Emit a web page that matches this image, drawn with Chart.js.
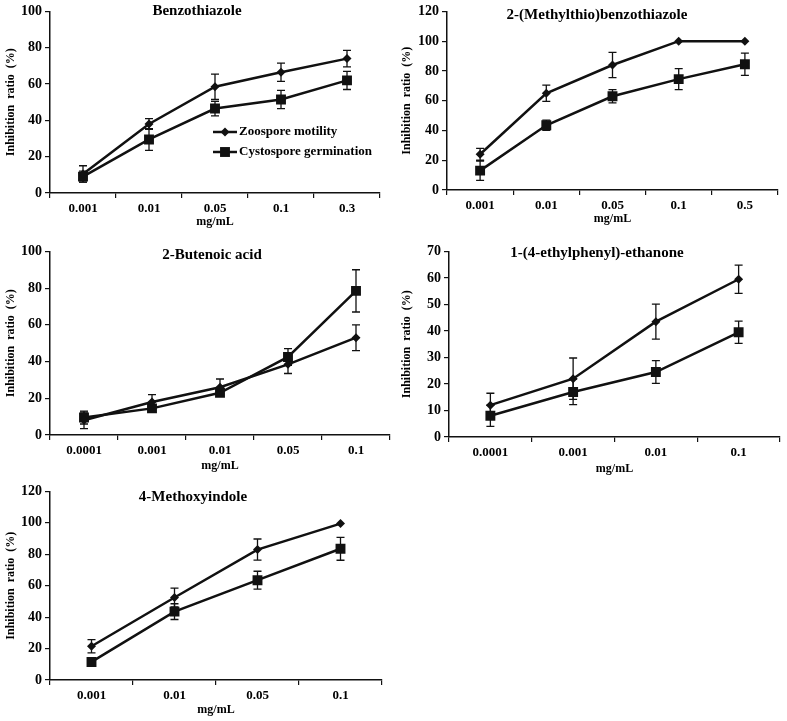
<!DOCTYPE html>
<html>
<head>
<meta charset="utf-8">
<script src="https://cdn.jsdelivr.net/npm/chart.js@4.4.1/dist/chart.umd.min.js"></script>
<style>
  body { margin: 0; background: #fff; }
  canvas { position: absolute; }
</style>
</head>
<body>
<canvas id="c1" width="390" height="233" style="left:0px;top:0px"></canvas>
<canvas id="c2" width="397" height="230" style="left:390px;top:0px"></canvas>
<canvas id="c3" width="400" height="237" style="left:0px;top:240px"></canvas>
<canvas id="c4" width="397" height="240" style="left:390px;top:240px"></canvas>
<canvas id="c5" width="390" height="241" style="left:0px;top:480px"></canvas>
<script>
// values (inhibition ratio %, error = +/-)
const benzoLabels = ['0.001', '0.01', '0.05', '0.1', '0.3'];
const benzoZoo = [10.5, 38, 58.5, 66.5, 74];
const benzoZooErr = [4.5, 3, 7, 5, 4.5];
const benzoCys = [9, 29.5, 46.5, 51.5, 62];
const benzoCysErr = [3, 6, 4, 5, 5];

const mtbLabels = ['0.001', '0.01', '0.05', '0.1', '0.5'];
const mtbZoo = [24, 65, 84, 100, 100];
const mtbZooErr = [4, 5.5, 8.5, 0, 0];
const mtbCys = [13, 43.5, 63, 74.5, 84.5];
const mtbCysErr = [6.5, 3.5, 4.5, 7, 7.5];

const butLabels = ['0.0001', '0.001', '0.01', '0.05', '0.1'];
const butZoo = [8, 18, 26, 38.5, 53];
const butZooErr = [4.5, 4, 4.5, 5, 7];
const butCys = [9.5, 14.5, 23, 42.5, 78.5];
const butCysErr = [3.5, 1.5, 2, 4.5, 11.5];

const ethLabels = ['0.0001', '0.001', '0.01', '0.1'];
const ethZoo = [12, 22, 43.5, 59.5];
const ethZooErr = [4.5, 7.8, 6.6, 5.3];
const ethCys = [8, 17, 24.5, 39.5];
const ethCysErr = [4, 4.8, 4.3, 4.2];

const metLabels = ['0.001', '0.01', '0.05', '0.1'];
const metZoo = [21.5, 52.5, 83, 99.5];
const metZooErr = [4.2, 6, 6.7, 0];
const metCys = [11.5, 43.5, 63.5, 83.5];
const metCysErr = [0.8, 5, 5.7, 7.3];

const seriesNames = ['Zoospore motility', 'Cystospore germination'];

Chart.defaults.font.family = '"Liberation Serif", "Times New Roman", serif';
Chart.defaults.font.weight = 'bold';
Chart.defaults.color = '#000';

const INK = '#111';

// error bars drawn through the scales
const errorBars = {
  id: 'errorBars',
  beforeDatasetsDraw(chart) {
    const ctx = chart.ctx;
    const y = chart.scales.y;
    ctx.save();
    ctx.strokeStyle = INK;
    ctx.lineWidth = 1.3;
    chart.data.datasets.forEach((ds, i) => {
      const meta = chart.getDatasetMeta(i);
      meta.data.forEach((pt, j) => {
        const e = ds.errors[j];
        if (!e) return;
        const top = y.getPixelForValue(ds.data[j] + e);
        const bot = y.getPixelForValue(ds.data[j] - e);
        ctx.beginPath();
        ctx.moveTo(pt.x, top); ctx.lineTo(pt.x, bot);
        ctx.moveTo(pt.x - 4, top); ctx.lineTo(pt.x + 4, top);
        ctx.moveTo(pt.x - 4, bot); ctx.lineTo(pt.x + 4, bot);
        ctx.stroke();
      });
    });
    ctx.restore();
  }
};

// panel title
const panelTitle = {
  id: 'panelTitle',
  afterDraw(chart, args, opts) {
    const ctx = chart.ctx;
    ctx.save();
    ctx.fillStyle = '#000';
    ctx.font = 'bold 15px "Liberation Serif", serif';
    ctx.textAlign = 'center';
    ctx.textBaseline = 'middle';
    ctx.fillText(opts.text, opts.x, opts.y);
    ctx.restore();
  }
};

// legend inside the first panel
const innerLegend = {
  id: 'innerLegend',
  afterDraw(chart, args, opts) {
    if (!opts.show) return;
    const ctx = chart.ctx;
    ctx.save();
    chart.data.datasets.forEach((ds, i) => {
      const yy = opts.y + i * opts.gap;
      ctx.strokeStyle = INK;
      ctx.lineWidth = 2.5;
      ctx.beginPath();
      ctx.moveTo(opts.x, yy); ctx.lineTo(opts.x + 24, yy);
      ctx.stroke();
      ctx.fillStyle = INK;
      Chart.helpers.drawPoint(ctx, {pointStyle: ds.pointStyle, radius: ds.pointRadius, borderWidth: 0}, opts.x + 12, yy);
      ctx.fillStyle = '#000';
      ctx.font = 'bold 13px "Liberation Serif", serif';
      ctx.textAlign = 'left';
      ctx.textBaseline = 'middle';
      ctx.fillText(ds.label, opts.x + 26, yy);
    });
    ctx.restore();
  }
};

function makePanel(id, labels, zoo, zooErr, cys, cysErr, p) {
  const axisGrid = {display: true, drawOnChartArea: false, drawTicks: true, tickLength: 5, color: INK, lineWidth: 1.2};
  const axisBorder = {display: true, color: INK, width: 1.5};
  new Chart(document.getElementById(id), {
    type: 'line',
    data: {
      labels: labels,
      datasets: [{
        label: seriesNames[0],
        data: zoo,
        errors: zooErr,
        borderColor: INK,
        backgroundColor: INK,
        borderWidth: 2.5,
        tension: 0,
        pointStyle: 'rectRot',
        pointRadius: 4.5,
        pointBorderWidth: 0
      }, {
        label: seriesNames[1],
        data: cys,
        errors: cysErr,
        borderColor: INK,
        backgroundColor: INK,
        borderWidth: 2.5,
        tension: 0,
        pointStyle: 'rect',
        pointRadius: 7,
        pointBorderWidth: 0
      }]
    },
    options: {
      responsive: false,
      animation: false,
      devicePixelRatio: 1,
      layout: {padding: {left: p.padL, right: p.padR, top: p.padT, bottom: 0}},
      scales: {
        x: {
          offset: true,
          grid: Object.assign({offset: true}, axisGrid),
          border: axisBorder,
          ticks: {color: '#000', font: {size: 13, weight: 'bold'}, padding: 3, maxRotation: 0, autoSkip: false},
          title: {display: true, text: 'mg/mL', color: '#000', font: {size: 12, weight: 'bold'}, padding: {top: 2, bottom: 4}},
          afterFit: s => { s.height = p.xH; }
        },
        y: {
          min: 0,
          max: p.max,
          grid: axisGrid,
          border: axisBorder,
          ticks: {stepSize: p.step, color: '#000', font: {size: 14, weight: 'bold'}, padding: 3},
          title: {display: true, text: 'Inhibition  ratio  (%)', color: '#000', font: {size: 12, weight: 'bold'}, padding: 4},
          afterFit: s => { s.width = p.yW; }
        }
      },
      plugins: {
        legend: {display: false},
        tooltip: {enabled: false},
        panelTitle: {text: p.title, x: p.tx, y: p.ty},
        innerLegend: {show: !!p.legend, x: 213, y: 132, gap: 20}
      }
    },
    plugins: [errorBars, panelTitle, innerLegend]
  });
}

makePanel('c1', benzoLabels, benzoZoo, benzoZooErr, benzoCys, benzoCysErr,
  {title: 'Benzothiazole', tx: 197, ty: 11, max: 100, step: 20, padL: 0, padR: 10, padT: 9, yW: 50, xH: 40, legend: true});
makePanel('c2', mtbLabels, mtbZoo, mtbZooErr, mtbCys, mtbCysErr,
  {title: '2-(Methylthio)benzothiazole', tx: 207, ty: 15, max: 120, step: 20, padL: 6, padR: 9, padT: 7, yW: 51, xH: 40});
makePanel('c3', butLabels, butZoo, butZooErr, butCys, butCysErr,
  {title: '2-Butenoic acid', tx: 212, ty: 15, max: 100, step: 20, padL: 0, padR: 10, padT: 5, yW: 50, xH: 42});
makePanel('c4', ethLabels, ethZoo, ethZooErr, ethCys, ethCysErr,
  {title: '1-(4-ethylphenyl)-ethanone', tx: 207, ty: 13, max: 70, step: 10, padL: 6, padR: 2, padT: 7, yW: 53, xH: 43});
makePanel('c5', metLabels, metZoo, metZooErr, metCys, metCysErr,
  {title: '4-Methoxyindole', tx: 193, ty: 17, max: 120, step: 20, padL: 0, padR: 8, padT: 10, yW: 50, xH: 41});
</script>
</body>
</html>
